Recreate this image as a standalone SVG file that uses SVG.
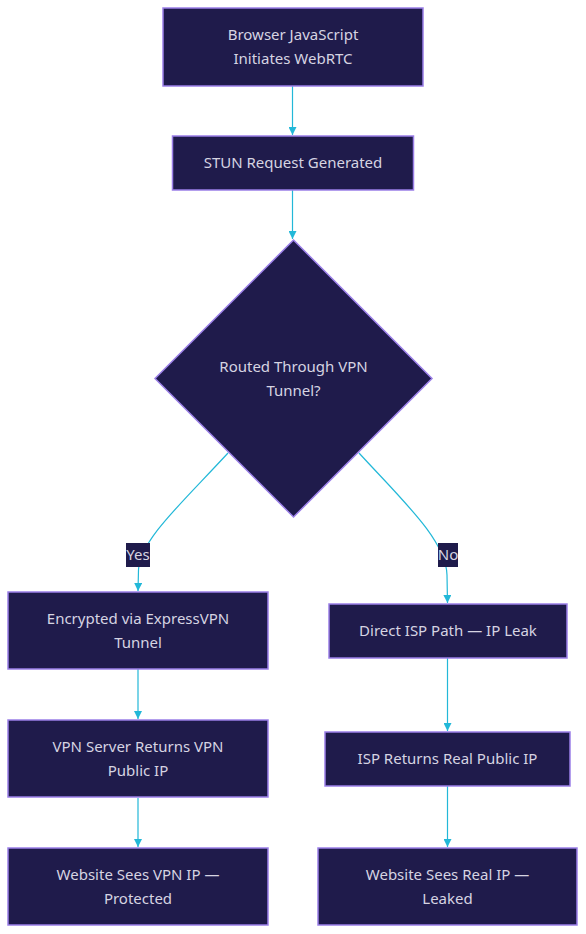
<svg xmlns="http://www.w3.org/2000/svg" width="586" height="934" viewBox="0 0 586 934">
<defs>
<style>
.node{fill:#1f1b4b;stroke:#9b7fe8;stroke-width:1.5}
.lbl{fill:#d6d4e2;font-family:"Noto Sans","Liberation Sans",sans-serif;font-size:15px;text-anchor:middle;dominant-baseline:central}
.edge{fill:none;stroke:#22b8d8;stroke-width:1.2}
.elbg{fill:#1f1b4b}
</style>
<marker id="arr" viewBox="0 0 10 10" refX="10" refY="5" markerWidth="8" markerHeight="8" markerUnits="userSpaceOnUse" orient="auto">
<path d="M0,0 L10,5 L0,10 z" fill="#22b8d8"/>
</marker>
</defs>
<rect width="586" height="934" fill="#ffffff"/>
<g id="connectors">
<path class="edge" d="M292.5,86 L292.5,135" marker-end="url(#arr)"/>
<path class="edge" d="M292.5,190 L292.5,239" marker-end="url(#arr)"/>
<path class="edge" d="M228,453 C182,503 140,540 138.5,570 L138,591" marker-end="url(#arr)"/>
<path class="edge" d="M359,453 C402,500 446,540 447,575 L447.5,603" marker-end="url(#arr)"/>
<path class="edge" d="M138,669 L138,719" marker-end="url(#arr)"/>
<path class="edge" d="M138,798 L138,847" marker-end="url(#arr)"/>
<path class="edge" d="M447.5,658 L447.5,731" marker-end="url(#arr)"/>
<path class="edge" d="M447.5,786 L447.5,847" marker-end="url(#arr)"/>
<g id="edge-yes"><rect class="elbg" x="126" y="543" width="24" height="24"/><text class="lbl" x="138" y="554">Yes</text></g>
<g id="edge-no"><rect class="elbg" x="438" y="543" width="20" height="24"/><text class="lbl" x="448" y="554">No</text></g>
</g>
<g id="n1"><rect class="node" x="163" y="8" width="260" height="78"/><text class="lbl" x="293" y="33.5">Browser JavaScript</text><text class="lbl" x="293" y="57.5">Initiates WebRTC</text></g>
<g id="n2"><rect class="node" x="172.5" y="136" width="241" height="54"/><text class="lbl" x="293" y="161.5">STUN Request Generated</text></g>
<g id="n3"><polygon class="node" points="293.5,240 432,378.5 293.5,517 155,378.5"/><text class="lbl" x="293.5" y="365.5">Routed Through VPN</text><text class="lbl" x="293.5" y="389.5">Tunnel?</text></g>
<g id="n4"><rect class="node" x="8" y="592" width="260" height="77"/><text class="lbl" x="138" y="617.5">Encrypted via ExpressVPN</text><text class="lbl" x="138" y="641.5">Tunnel</text></g>
<g id="n5"><rect class="node" x="329" y="604" width="238" height="54"/><text class="lbl" x="448" y="629.5">Direct ISP Path — IP Leak</text></g>
<g id="n6"><rect class="node" x="8" y="720" width="260" height="77"/><text class="lbl" x="138" y="745.5">VPN Server Returns VPN</text><text class="lbl" x="138" y="769.5">Public IP</text></g>
<g id="n7"><rect class="node" x="325" y="732" width="245" height="54"/><text class="lbl" x="447.5" y="757.5">ISP Returns Real Public IP</text></g>
<g id="n8"><rect class="node" x="8" y="848" width="260" height="77"/><text class="lbl" x="138" y="873.5">Website Sees VPN IP —</text><text class="lbl" x="138" y="897.5">Protected</text></g>
<g id="n9"><rect class="node" x="318" y="848" width="259" height="77"/><text class="lbl" x="447.5" y="873.5">Website Sees Real IP —</text><text class="lbl" x="447.5" y="897.5">Leaked</text></g>
</svg>
